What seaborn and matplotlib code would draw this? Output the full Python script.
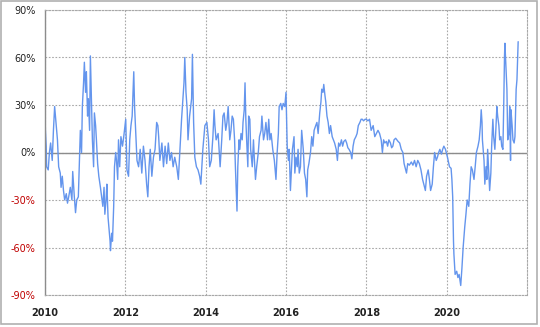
import matplotlib
matplotlib.use("Agg")
import matplotlib.pyplot as plt
import seaborn as sns
import pandas as pd
from matplotlib.patches import Rectangle
from matplotlib.ticker import FixedLocator, FuncFormatter

# ---- data (decimal year, percent) ----
years_2010_11 = [2010.00, 2010.01, 2010.03, 2010.04, 2010.08, 2010.11, 2010.14, 2010.18, 2010.21, 2010.24,
                 2010.28, 2010.31, 2010.34, 2010.38, 2010.40, 2010.43, 2010.46, 2010.49, 2010.53, 2010.56,
                 2010.59, 2010.63, 2010.67, 2010.69, 2010.73, 2010.76, 2010.79, 2010.83, 2010.86, 2010.88,
                 2010.91, 2010.93, 2010.96, 2010.98, 2011.01, 2011.03, 2011.06, 2011.08, 2011.11, 2011.13,
                 2011.16, 2011.18, 2011.21, 2011.23, 2011.26, 2011.28, 2011.31, 2011.34, 2011.38, 2011.41,
                 2011.44, 2011.47, 2011.49, 2011.52, 2011.54, 2011.57, 2011.59, 2011.62, 2011.63, 2011.66,
                 2011.68, 2011.71, 2011.73, 2011.76, 2011.78, 2011.81, 2011.83, 2011.86, 2011.89, 2011.93,
                 2011.96]
vals_2010_11 = [24, 14, 4, -9, -11, 0, 6, -5, 14, 29,
                17, 8, -9, -13, -22, -15, -24, -30, -26, -32,
                -28, -22, -30, -12, -28, -38, -30, -28, -3, 14,
                0, 29, 44, 57, 38, 51, 23, 34, 14, 61,
                29, 8, -9, 25, 17, 8, -7, -15, -22, -28,
                -34, -22, -39, -30, -20, -41, -47, -56, -62, -51,
                -56, -34, -9, 0, -5, -17, 8, -9, 10, 4,
                10]

years_2012_13 = [2012.01, 2012.04, 2012.08, 2012.11, 2012.14, 2012.17, 2012.21, 2012.23, 2012.26, 2012.29,
                 2012.33, 2012.37, 2012.41, 2012.45, 2012.49, 2012.53, 2012.56, 2012.59, 2012.62, 2012.66,
                 2012.70, 2012.74, 2012.78, 2012.81, 2012.83, 2012.86, 2012.91, 2012.95, 2012.99, 2013.03,
                 2013.07, 2013.11, 2013.15, 2013.19, 2013.23, 2013.28, 2013.32, 2013.36, 2013.40, 2013.42,
                 2013.46, 2013.48, 2013.51, 2013.54, 2013.56, 2013.60, 2013.65, 2013.67, 2013.70, 2013.73,
                 2013.77, 2013.81, 2013.85, 2013.88, 2013.90, 2013.93, 2013.98]
vals_2012_13 = [21, -11, -15, 8, 17, 23, 51, 29, 12, -5,
                -9, 2, -13, 4, -5, -20, -28, -9, 2, -15,
                -3, 2, 19, 17, 10, -5, 6, -9, 4, -7,
                6, -5, 0, -9, -3, -9, -17, 2, 21, 29,
                44, 60, 38, 27, 8, 23, 34, 62, 19, -3,
                -9, -11, -15, -20, -11, 2, 17]

years_2014_15 = [2014.03, 2014.07, 2014.10, 2014.14, 2014.18, 2014.21, 2014.23, 2014.26, 2014.31, 2014.33,
                 2014.36, 2014.40, 2014.43, 2014.46, 2014.50, 2014.53, 2014.56, 2014.60, 2014.63, 2014.66,
                 2014.69, 2014.72, 2014.74, 2014.78, 2014.80, 2014.83, 2014.85, 2014.88, 2014.91, 2014.93,
                 2014.96, 2014.98, 2015.00, 2015.02, 2015.05, 2015.07, 2015.10, 2015.12, 2015.16, 2015.19,
                 2015.21, 2015.24, 2015.27, 2015.31, 2015.34, 2015.38, 2015.40, 2015.44, 2015.47, 2015.50,
                 2015.54, 2015.57, 2015.60, 2015.63, 2015.67, 2015.71, 2015.75, 2015.78, 2015.81, 2015.83,
                 2015.87, 2015.90, 2015.93, 2015.97]
vals_2014_15 = [19, 8, -9, -5, 10, 27, 17, 8, 12, 4,
                -9, 8, 23, 25, 14, 19, 29, 8, 14, 23,
                21, 8, -9, -37, -9, 8, 2, 12, 8, 19,
                27, 44, 21, 8, -9, 23, 21, 2, -9, 8,
                -3, -17, -9, 0, 10, 14, 23, 8, 12, 19,
                8, 21, 8, 12, 2, -5, -17, 0, 12, 29,
                31, 27, 31, 29]

years_2016_17 = [2016.00, 2016.03, 2016.06, 2016.08, 2016.11, 2016.14, 2016.16, 2016.20, 2016.22, 2016.25,
                 2016.28, 2016.30, 2016.33, 2016.36, 2016.39, 2016.43, 2016.46, 2016.49, 2016.52, 2016.54,
                 2016.57, 2016.61, 2016.64, 2016.67, 2016.70, 2016.74, 2016.77, 2016.80, 2016.84, 2016.87,
                 2016.89, 2016.92, 2016.94, 2016.97, 2016.99, 2017.02, 2017.05, 2017.08, 2017.11, 2017.15,
                 2017.18, 2017.21, 2017.25, 2017.28, 2017.31, 2017.34, 2017.38, 2017.41, 2017.44, 2017.48,
                 2017.51, 2017.54, 2017.57, 2017.61, 2017.64, 2017.67, 2017.70, 2017.74, 2017.77, 2017.80,
                 2017.84, 2017.87, 2017.90, 2017.93, 2017.97]
vals_2016_17 = [38, 4, -5, 2, -24, -9, 2, 10, -13, -3,
                -9, 2, -13, -9, 14, 2, -13, -17, -28, -11,
                -7, 0, 10, 4, 14, 17, 19, 12, 25, 32,
                40, 38, 43, 36, 32, 23, 19, 12, 17, 10,
                8, 6, 2, -5, 6, 4, 8, 4, 7, 8,
                6, 3, 2, 0, -4, 4, 8, 10, 12, 17,
                19, 21, 21, 20, 21]

years_2018_19 = [2018.00, 2018.04, 2018.08, 2018.12, 2018.17, 2018.21, 2018.25, 2018.29, 2018.33, 2018.37,
                 2018.40, 2018.43, 2018.46, 2018.50, 2018.53, 2018.56, 2018.60, 2018.63, 2018.66, 2018.69,
                 2018.73, 2018.76, 2018.79, 2018.83, 2018.87, 2018.91, 2018.94, 2018.98, 2019.00, 2019.03,
                 2019.07, 2019.12, 2019.16, 2019.20, 2019.24, 2019.28, 2019.32, 2019.36, 2019.40, 2019.45,
                 2019.47, 2019.50, 2019.54, 2019.57, 2019.60, 2019.64, 2019.67, 2019.70, 2019.74, 2019.77,
                 2019.80, 2019.83, 2019.87, 2019.90, 2019.93, 2019.97]
vals_2018_19 = [21, 20, 21, 14, 17, 10, 12, 14, 12, 8,
                0, 8, 6, 7, 4, 8, 6, 3, 4, 8,
                9, 8, 7, 6, 2, 0, -7, -11, -13, -7,
                -8, -6, -8, -5, -9, -5, -7, -11, -17, -22,
                -24, -15, -11, -17, -24, -20, -9, 0, -5, -3,
                0, 2, -1, 2, 4, 2]

years_2020_21 = [2020.02, 2020.07, 2020.11, 2020.13, 2020.15, 2020.17, 2020.18, 2020.20, 2020.21, 2020.25,
                 2020.28, 2020.31, 2020.35, 2020.38, 2020.41, 2020.45, 2020.48, 2020.51, 2020.55, 2020.58,
                 2020.61, 2020.64, 2020.68, 2020.71, 2020.74, 2020.78, 2020.81, 2020.84, 2020.86, 2020.88,
                 2020.89, 2020.93, 2020.95, 2020.98, 2021.00, 2021.02, 2021.05, 2021.07, 2021.10, 2021.12,
                 2021.15, 2021.17, 2021.20, 2021.22, 2021.25, 2021.27, 2021.30, 2021.32, 2021.35, 2021.37,
                 2021.40, 2021.42, 2021.44, 2021.45, 2021.47, 2021.50, 2021.52, 2021.55, 2021.57, 2021.59,
                 2021.60, 2021.63, 2021.65, 2021.68, 2021.70, 2021.73, 2021.75, 2021.78]
vals_2020_21 = [-3, -9, -10, -17, -28, -56, -64, -73, -77, -75,
                -79, -77, -84, -73, -60, -47, -39, -30, -34, -20,
                -9, -11, -17, -9, 0, 4, 8, 17, 27, 19,
                8, -5, -20, -9, -17, 2, -13, -24, -13, 4,
                21, 10, 2, 12, 29, 23, 17, 8, 10, 4,
                2, 29, 61, 69, 57, 40, 8, 12, 29, -5,
                27, 17, 8, 6, 10, 40, 46, 70]

x_tick_years = [2010, 2012, 2014, 2016, 2018, 2020]
y_ticks = [-90, -60, -30, 0, 30, 60, 90]

years = (years_2010_11 + years_2012_13 + years_2014_15 +
         years_2016_17 + years_2018_19 + years_2020_21)
values = (vals_2010_11 + vals_2012_13 + vals_2014_15 +
          vals_2016_17 + vals_2018_19 + vals_2020_21)
df = pd.DataFrame({"year": years, "value": values})

# ---- figure ----
sns.set_style("white")
plt.rcParams["font.family"] = ["DejaVu Sans"]
fig = plt.figure(figsize=(5.40, 3.27), dpi=100)
ax = fig.add_axes([45 / 540, 1 - 295 / 327, (527 - 45) / 540, (295 - 10) / 327])

sns.lineplot(data=df, x="year", y="value", ax=ax, color="#6495ed",
             linewidth=1.0, sort=False, estimator=None)

ax.set_xlim(2010, 2022)
ax.set_ylim(-90, 90)
ax.xaxis.set_major_locator(FixedLocator(x_tick_years))
ax.yaxis.set_major_locator(FixedLocator(y_ticks))
ax.xaxis.set_major_formatter(FuncFormatter(lambda v, p: f"{int(round(v))}"))
ax.yaxis.set_major_formatter(FuncFormatter(lambda v, p: f"{int(round(v))}%"))
ax.set_xlabel("")
ax.set_ylabel("")

grid_kw = dict(color="#a8a8a8", linewidth=0.8, linestyle=(0, (1.5, 1.5)))
ax.grid(True, **grid_kw)
ax.set_axisbelow(True)
ax.axhline(0, color="#8c8c8c", linewidth=1.0, zorder=1.5)

for side in ["top", "right", "bottom"]:
    ax.spines[side].set_visible(True)
    ax.spines[side].set_color("#a8a8a8")
    ax.spines[side].set_linewidth(0.8)
    ax.spines[side].set_linestyle((0, (1.5, 1.5)))
ax.spines["left"].set_color("#8c8c8c")
ax.spines["left"].set_linewidth(1.0)

ax.tick_params(axis="x", length=0, labelsize=7, pad=9)
ax.tick_params(axis="y", length=0, labelsize=7, pad=7)
for lab in ax.get_xticklabels():
    lab.set_fontweight("bold")
    lab.set_color("#222222")
for lab, t in zip(ax.get_yticklabels(), y_ticks):
    lab.set_color("#c00000" if t < 0 else "#222222")

fig.patches.append(Rectangle((0.002, 0.008), 0.992, 0.989, transform=fig.transFigure,
                             fill=False, edgecolor="#b0b0b0", linewidth=1.2))

fig.savefig("out.png", dpi=100, facecolor="white")
